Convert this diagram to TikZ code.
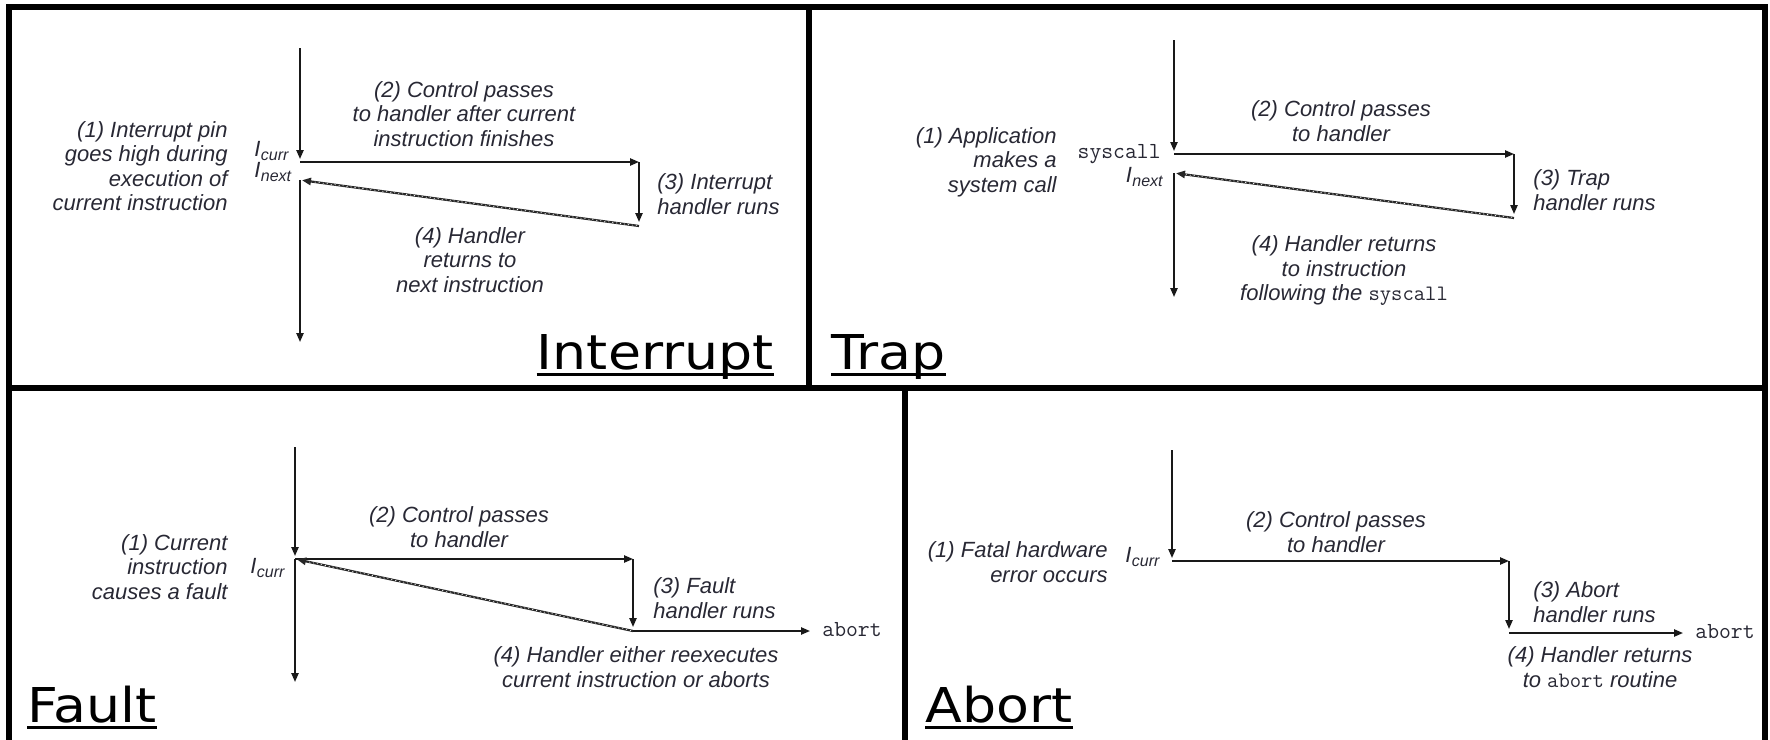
\documentclass[tikz,border=0pt]{standalone}
\usepackage{fontspec}
\usetikzlibrary{arrows.meta}
\newfontfamily\notefont{Liberation Sans}
\newfontfamily\titlefont{DejaVu Sans}[FakeStretch=1.12]
\definecolor{ink}{RGB}{40,40,52}
% subscripted instruction names such as I_curr and I_next
\newcommand\lowsub[1]{\raisebox{-0.22em}{\fontsize{8}{8}\selectfont #1}}
\newcommand\instr[1]{\textit{I}\kern0.02em\lowsub{\textit{#1}}}
\newcommand\code[1]{{\ttfamily\upshape #1}}

\begin{document}
\begin{tikzpicture}[x=0.5pt,y=-0.5pt,
  note/.style={font=\notefont\itshape\fontsize{11}{12.25}\selectfont, text=ink, inner sep=0pt},
  codetxt/.style={font=\ttfamily\fontsize{11.5}{12}\selectfont, text=ink, inner sep=0pt},
  title/.style={font=\titlefont\fontsize{24}{26}\selectfont, text=black, inner sep=0pt},
  uline/.style={line width=1.5pt},
  frame/.style={line width=3pt},
  tip/.tip={Triangle[length=4.5pt,width=3.6pt]},
  flow/.style={draw=black!90, line width=0.9pt, -tip},
  ret/.style={draw=black!85, line width=1.1pt, -tip,
    postaction={draw=white, line width=0.3pt, dash pattern=on 0.6pt off 1.4pt, shorten >=6pt, shorten <=1pt, -}}]

\useasboundingbox (0,0) rectangle (1770,739);

% ---- frame and panel dividers ----
\draw[frame] (9,745) -- (9,7) -- (1765,7) -- (1765,745);
\draw[frame] (9,388) -- (1765,388);
\draw[frame] (809,7) -- (809,388);
\draw[frame] (905,388) -- (905,745);

% ================= Interrupt =================
\coordinate (i-top)  at (300,48);
\coordinate (i-curr) at (300,162);
\coordinate (i-hand) at (639,162);
\coordinate (i-end)  at (639,226);
\coordinate (i-next) at (300,180);
\coordinate (i-bot)  at (300,342);
\draw[flow, shorten >=1.5pt] (i-top) -- (i-curr);
\draw[flow] (i-curr) -- (i-hand);
\draw[flow, shorten >=2pt] (i-hand) -- (i-end);
\draw[ret, shorten >=1pt] (i-end) -- (i-next);
\draw[flow] (i-next) -- (i-bot);

\node[note, align=right, anchor=east] (i-l1) at (228,166)
  {(1) Interrupt pin\\goes high during\\execution of\\current instruction};
\node[note, anchor=base west] (i-cur) at (254,156) {\instr{curr}};
\node[note, anchor=base west] (i-nxt) at (254,177) {\instr{next}};
\node[note, align=center] (i-l2) at (464,114)
  {(2) Control passes\\to handler after current\\instruction finishes};
\node[note, align=left, anchor=west] (i-l3) at (657,194)
  {(3) Interrupt\\handler runs};
\node[note, align=center] (i-l4) at (470,260)
  {(4) Handler\\returns to\\next instruction};
\node[title, anchor=base east] (i-title) at (774,369) {Interrupt};
\draw[uline] ([yshift=-2.6pt]i-title.base west) -- ([yshift=-2.6pt]i-title.base east);

% ================= Trap =================
\coordinate (t-top)  at (1174,40);
\coordinate (t-curr) at (1174,154);
\coordinate (t-hand) at (1514,154);
\coordinate (t-end)  at (1514,218);
\coordinate (t-next) at (1174,173);
\coordinate (t-bot)  at (1174,297);
\draw[flow, shorten >=1.5pt] (t-top) -- (t-curr);
\draw[flow] (t-curr) -- (t-hand);
\draw[flow, shorten >=2pt] (t-hand) -- (t-end);
\draw[ret, shorten >=1pt] (t-end) -- (t-next);
\draw[flow] (t-next) -- (t-bot);

\node[note, align=right, anchor=east] (t-l1) at (1057,162)
  {(1) Application\\makes a\\system call};
\node[codetxt, anchor=base east] (t-sys) at (1161,158) {syscall};
\node[note, anchor=base east] (t-nxt) at (1163,182) {\instr{next}};
\node[note, align=center] (t-l2) at (1341,121)
  {(2) Control passes\\to handler};
\node[note, align=left, anchor=west] (t-l3) at (1533,190)
  {(3) Trap\\handler runs};
\node[note, align=center] (t-l4) at (1344,271)
  {(4) Handler returns\\to instruction\\following the \code{syscall}};
\node[title, anchor=base west] (t-title) at (831,369) {Trap};
\draw[uline] ([yshift=-2.6pt]t-title.base west) -- ([yshift=-2.6pt]t-title.base east);

% ================= Fault =================
\coordinate (f-top)  at (295,447);
\coordinate (f-curr) at (295,559);
\coordinate (f-hand) at (633,559);
\coordinate (f-end)  at (633,631);
\coordinate (f-bot)  at (295,682);
\draw[flow, shorten >=1.5pt] (f-top) -- (f-curr);
\draw[flow] (f-curr) -- (f-hand);
\draw[flow, shorten >=2pt] (f-hand) -- (f-end);
\draw[ret, shorten >=1pt] (f-end) -- (f-curr);
\draw[flow] (f-curr) -- (f-bot);
\node[codetxt, anchor=base west] (f-abt) at (822,636) {abort};
\draw[flow, shorten >=6pt] (f-end) -- (f-end -| f-abt.west);

\node[note, align=right, anchor=east] (f-l1) at (228,567)
  {(1) Current\\instruction\\causes a fault};
\node[note, anchor=base west] (f-cur) at (250,573) {\instr{curr}};
\node[note, align=center] (f-l2) at (459,527)
  {(2) Control passes\\to handler};
\node[note, align=left, anchor=west] (f-l3) at (653,598)
  {(3) Fault\\handler runs};
\node[note, align=center] (f-l4) at (636,667)
  {(4) Handler either reexecutes\\current instruction or aborts};
\node[title, anchor=base west] (f-title) at (27,722) {Fault};
\draw[uline] ([yshift=-2.6pt]f-title.base west) -- ([yshift=-2.6pt]f-title.base east);

% ================= Abort =================
\coordinate (a-top)  at (1172,450);
\coordinate (a-curr) at (1172,561);
\coordinate (a-hand) at (1509,561);
\coordinate (a-end)  at (1509,633);
\draw[flow, shorten >=1.5pt] (a-top) -- (a-curr);
\draw[flow] (a-curr) -- (a-hand);
\draw[flow, shorten >=2pt] (a-hand) -- (a-end);
\node[codetxt, anchor=base west] (a-abt) at (1695,638) {abort};
\draw[flow, shorten >=6pt] (a-end) -- (a-end -| a-abt.west);

\node[note, align=right, anchor=east] (a-l1) at (1108,562)
  {(1) Fatal hardware\\error occurs};
\node[note, anchor=base west] (a-cur) at (1125,562) {\instr{curr}};
\node[note, align=center] (a-l2) at (1336,532)
  {(2) Control passes\\to handler};
\node[note, align=left, anchor=west] (a-l3) at (1533,602)
  {(3) Abort\\handler runs};
\node[note, align=center] (a-l4) at (1600,667)
  {(4) Handler returns\\to \code{abort} routine};
\node[title, anchor=base west] (a-title) at (925,722) {Abort};
\draw[uline] ([yshift=-2.6pt]a-title.base west) -- ([yshift=-2.6pt]a-title.base east);

\end{tikzpicture}
\end{document}
